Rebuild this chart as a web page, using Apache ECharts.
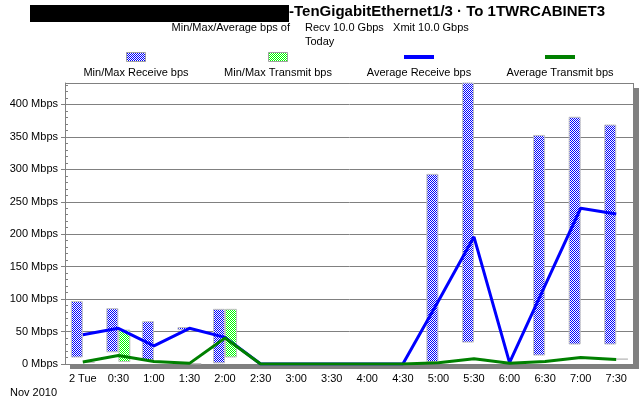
<!DOCTYPE html>
<html>
<head>
<meta charset="utf-8">
<script src="https://cdn.jsdelivr.net/npm/echarts@6/dist/echarts.min.js"></script>
<style>html,body{margin:0;padding:0;background:#fff;}#c{width:640px;height:400px;}</style>
</head>
<body>
<div id="c"></div>
<script>
const categories = ['2 Tue','0:30','1:00','1:30','2:00','2:30','3:00','3:30','4:00','4:30','5:00','5:30','6:00','6:30','7:00','7:30'];
const recvMin = [10, 18, 6, 52, 1, null, null, null, null, null, 3, 33, null, 13, 30, 30];
const recvMax = [97, 86, 66, 57, 85, null, null, null, null, null, 293, 440, null, 353, 381, 369];
const xmitMin = [2, 3, null, 0, 10, null, null, null, null, null, null, 6, null, null, null, 7];
const xmitMax = [3, 53, null, 1, 85, null, null, null, null, null, null, 8, null, null, null, 8];
const avgRecv = [45, 55, 28, 55, 41, 0, 0, 0, 0, 0, 97, 196, 2, 121, 240, 231];
const avgXmit = [3, 13, 4, 1, 40, 0, 0, 0, 0, 0, 2, 8, 1, 4, 10, 7];
const yTicks = [0, 50, 100, 150, 200, 250, 300, 350, 400];

const FONT = 'Liberation Sans, Arial, sans-serif';
function pat(c) {
  const cv = document.createElement('canvas');
  cv.width = 2; cv.height = 2;
  const g = cv.getContext('2d');
  g.fillStyle = '#ffffff'; g.fillRect(0, 0, 2, 2);
  g.fillStyle = c; g.fillRect(0, 0, 1, 1); g.fillRect(1, 1, 1, 1);
  return { image: cv, repeat: 'repeat' };
}
const blueP = pat('#0000ff');
const greenP = pat('#00ff00');
const range = (mn, mx) => mn.map((v, i) => (v == null || mx[i] == null) ? null : mx[i] - v);
const txt = (x, y, s, align) => ({ type: 'text', x: x, y: y, style: { text: s, align: align, verticalAlign: 'middle', font: '11px ' + FONT, fill: '#000' } });

const chart = echarts.init(document.getElementById('c'), null, { renderer: 'canvas' });
chart.setOption({
  animation: false,
  backgroundColor: '#ffffff',
  title: {
    text: '-TenGigabitEthernet1/3 · To 1TWRCABINET3',
    left: 289, top: 4, padding: 0,
    textStyle: { fontFamily: FONT, fontSize: 15, fontWeight: 'bold', color: '#000' }
  },
  grid: {
    left: 65, right: 6, top: 83, bottom: 36, show: true,
    backgroundColor: '#ffffff', borderWidth: 0,
    shadowColor: '#808080', shadowOffsetX: 5, shadowOffsetY: 5, shadowBlur: 0
  },
  xAxis: {
    type: 'category', data: categories, boundaryGap: true,
    axisLine: { lineStyle: { color: '#808080', width: 1 } },
    axisTick: { inside: true, length: 6, alignWithLabel: true, lineStyle: { color: '#808080' } },
    axisLabel: { margin: 9, color: '#000', fontFamily: FONT, fontSize: 11, interval: 0 },
    splitLine: { show: false }
  },
  yAxis: [{
    type: 'value', min: 0, max: 433, interval: 50, position: 'left',
    axisLine: { show: true, lineStyle: { color: '#808080' } },
    axisTick: { show: true, length: 4, lineStyle: { color: '#808080' } },
    axisLabel: { margin: 7, color: '#000', fontFamily: FONT, fontSize: 11, showMaxLabel: false,
      formatter: v => yTicks.indexOf(v) >= 0 ? v + ' Mbps' : '' },
    splitLine: { show: true, lineStyle: { color: '#808080', width: 1 } }
  }, {
    type: 'value', min: 0, max: 433, interval: 10, position: 'left', offset: 0,
    axisLine: { show: false },
    axisTick: { show: true, inside: true, length: 3, lineStyle: { color: '#808080' } },
    axisLabel: { show: false },
    splitLine: { show: false }
  }],
  series: [
    { name: 'recvBase', type: 'bar', stack: 'r', data: recvMin, barWidth: 12, barGap: '0%',
      itemStyle: { color: 'transparent' }, silent: true },
    { name: 'Min/Max Receive bps', type: 'bar', stack: 'r', data: range(recvMin, recvMax), barWidth: 12, barGap: '0%',
      itemStyle: { color: blueP, borderColor: '#c0c0c0', borderWidth: 1 } },
    { name: 'xmitBase', type: 'bar', stack: 't', data: xmitMin, barWidth: 12, barGap: '0%',
      itemStyle: { color: 'transparent' }, silent: true },
    { name: 'Min/Max Transmit bps', type: 'bar', stack: 't', data: range(xmitMin, xmitMax), barWidth: 12, barGap: '0%',
      itemStyle: { color: greenP, borderColor: '#c0c0c0', borderWidth: 1 } },
    { name: 'Average Receive bps', type: 'line', data: avgRecv, symbol: 'none', z: 5,
      lineStyle: { color: '#0000ff', width: 3 } },
    { name: 'Average Transmit bps', type: 'line', data: avgXmit, symbol: 'none', z: 6,
      lineStyle: { color: '#008000', width: 3 } }
  ],
  graphic: [
    { type: 'rect', shape: { x: 30, y: 5, width: 259, height: 17 }, style: { fill: '#000' } },
    { type: 'rect', z: 1, shape: { x: 65.5, y: 83.5, width: 568, height: 281 }, style: { fill: null, stroke: '#808080', lineWidth: 1 }, silent: true },
    txt(290, 28, 'Min/Max/Average bps of', 'right'),
    txt(305, 28, 'Recv 10.0 Gbps   Xmit 10.0 Gbps', 'left'),
    txt(305, 42, 'Today', 'left'),
    { type: 'rect', shape: { x: 126.5, y: 52.5, width: 19, height: 9 }, style: { fill: blueP, stroke: '#a0a0a0', lineWidth: 1 } },
    { type: 'rect', shape: { x: 268.5, y: 52.5, width: 19, height: 9 }, style: { fill: greenP, stroke: '#a0a0a0', lineWidth: 1 } },
    { type: 'rect', shape: { x: 404, y: 55, width: 30, height: 4 }, style: { fill: '#0000ff' } },
    { type: 'rect', shape: { x: 545, y: 55, width: 30, height: 4 }, style: { fill: '#008000' } },
    txt(136, 73, 'Min/Max Receive bps', 'center'),
    txt(278, 73, 'Min/Max Transmit bps', 'center'),
    txt(419, 73, 'Average Receive bps', 'center'),
    txt(560, 73, 'Average Transmit bps', 'center'),
    txt(10, 393, 'Nov 2010', 'left')
  ]
});
</script>
</body>
</html>
